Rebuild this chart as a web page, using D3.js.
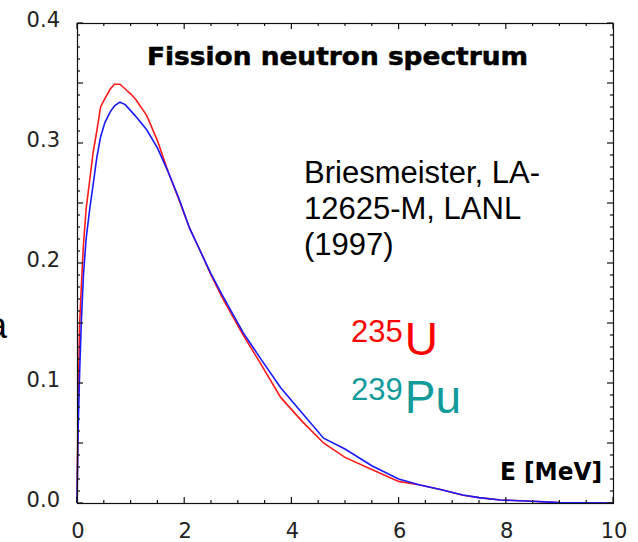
<!DOCTYPE html>
<html>
<head>
<meta charset="utf-8">
<script src="https://cdn.jsdelivr.net/npm/d3@7"></script>
<style>
  body { margin: 0; background: #fff; }
  svg { display: block; }
</style>
</head>
<body>
<svg id="chart" width="638" height="542"></svg>
<script>
// energies in MeV, spectra per MeV
const energy = [0, 0.02, 0.05, 0.08, 0.12, 0.17, 0.24, 0.3, 0.37, 0.44, 0.52, 0.62, 0.7, 0.8, 0.9, 1.0, 1.1, 1.3, 1.5, 1.7, 1.9, 2.1, 2.3, 2.5, 2.7, 2.9, 3.1, 3.4, 3.8, 4.2, 4.6, 5.0, 5.5, 6.0, 6.4, 6.8, 7.2, 7.5, 7.9, 8.5, 9.0, 10];
const u235 = [0, 0.08, 0.15, 0.18, 0.215, 0.245, 0.27, 0.292, 0.31, 0.33, 0.337, 0.345, 0.349, 0.349, 0.345, 0.341, 0.336, 0.323, 0.302, 0.276, 0.253, 0.229, 0.21, 0.19, 0.172, 0.156, 0.14, 0.118, 0.088, 0.068, 0.05, 0.038, 0.028, 0.018, 0.015, 0.011, 0.0065, 0.0045, 0.0025, 0.0015, 0.0003, 0];
const pu239 = [0, 0.06, 0.11, 0.15, 0.19, 0.22, 0.246, 0.265, 0.288, 0.305, 0.317, 0.326, 0.331, 0.334, 0.332, 0.327, 0.322, 0.311, 0.296, 0.276, 0.254, 0.229, 0.21, 0.191, 0.174, 0.158, 0.142, 0.122, 0.096, 0.075, 0.054, 0.045, 0.031, 0.02, 0.015, 0.011, 0.0067, 0.0045, 0.0025, 0.0015, 0.0003, 0];
const xLabels = [0, 2, 4, 6, 8, 10];
const yLabels = [0.0, 0.1, 0.2, 0.3, 0.4];

const svg = d3.select("#chart");
const plotL = 77, plotR = 613, plotT = 23, plotB = 503;

const x = d3.scaleLinear().domain([0, 10]).range([plotL, plotR]);
const y = d3.scaleLinear().domain([0, 0.4]).range([plotB, plotT]);

// curves
const line = d3.line()
    .x(function(d) { return x(d[0]); })
    .y(function(d) { return y(d[1]); });

svg.append("path")
    .datum(d3.zip(energy, u235))
    .attr("d", line)
    .attr("fill", "none")
    .attr("stroke", "#ff1a1a")
    .attr("stroke-width", 1.6);

svg.append("path")
    .datum(d3.zip(energy, pu239))
    .attr("d", line)
    .attr("fill", "none")
    .attr("stroke", "#1a1aff")
    .attr("stroke-width", 1.6);

// frame
svg.append("rect")
    .attr("x", plotL + 0.5)
    .attr("y", plotT + 0.5)
    .attr("width", plotR - plotL)
    .attr("height", plotB - plotT)
    .attr("fill", "none")
    .attr("stroke", "#111")
    .attr("stroke-width", 1.2);

// inward ticks on all four sides
const ticks = svg.append("g").attr("stroke", "#111").attr("stroke-width", 1.2);
d3.range(0, 10.01, 0.5).forEach(function(v) {
  const len = (Math.abs(v % 2) < 1e-6) ? 6 : 3;
  ticks.append("line").attr("x1", x(v)).attr("x2", x(v)).attr("y1", plotB).attr("y2", plotB - len);
  ticks.append("line").attr("x1", x(v)).attr("x2", x(v)).attr("y1", plotT).attr("y2", plotT + len);
});
d3.range(0, 41).forEach(function(i) {
  const v = i / 100;
  const len = (i % 5 === 0) ? 6 : 3;
  ticks.append("line").attr("x1", plotL).attr("x2", plotL + len).attr("y1", y(v)).attr("y2", y(v));
  ticks.append("line").attr("x1", plotR).attr("x2", plotR - len).attr("y1", y(v)).attr("y2", y(v));
});

// tick labels
svg.append("g").selectAll("text")
    .data(xLabels)
    .enter()
    .append("text")
    .attr("x", function(d) { return x(d) + 1; })
    .attr("y", plotB + 35)
    .attr("text-anchor", "middle")
    .attr("font-family", "DejaVu Sans")
    .attr("font-size", 21)
    .attr("fill", "#222")
    .text(function(d) { return d; });

svg.append("g").selectAll("text")
    .data(yLabels)
    .enter()
    .append("text")
    .attr("x", 60)
    .attr("y", function(d) { return y(d) + 4; })
    .attr("text-anchor", "end")
    .attr("font-family", "DejaVu Sans")
    .attr("font-size", 21)
    .attr("fill", "#222")
    .text(function(d) { return d.toFixed(1); });

// titles
svg.append("text")
    .attr("x", 147).attr("y", 65)
    .attr("font-family", "DejaVu Sans").attr("font-weight", "bold")
    .attr("font-size", 24)
    .attr("stroke", "#000").attr("stroke-width", 0.5)
    .attr("textLength", 381).attr("lengthAdjust", "spacingAndGlyphs")
    .text("Fission neutron spectrum");

svg.append("text")
    .attr("x", 500).attr("y", 480)
    .attr("font-family", "DejaVu Sans").attr("font-weight", "bold")
    .attr("font-size", 24)
    .attr("textLength", 102).attr("lengthAdjust", "spacingAndGlyphs")
    .text("E [MeV]");

// reference note
const note = ["Briesmeister, LA-", "12625-M, LANL", "(1997)"];
svg.append("g").selectAll("text")
    .data(note)
    .enter()
    .append("text")
    .attr("x", 304)
    .attr("y", function(d, i) { return 183 + i * 36; })
    .attr("font-family", "Liberation Sans, Arial, sans-serif")
    .attr("font-size", 31)
    .attr("fill", "#000")
    .text(function(d) { return d; });

// legend
const legend = [
  {mass: "235", sym: "U", colour: "#ff0000", base: 355},
  {mass: "239", sym: "Pu", colour: "#139a9a", base: 413}
];
legend.forEach(function(d) {
  const t = svg.append("text")
      .attr("x", 351).attr("y", d.base)
      .attr("font-family", "Liberation Sans, Arial, sans-serif")
      .attr("fill", d.colour);
  t.append("tspan").attr("font-size", 31).attr("dy", -13).text(d.mass);
  t.append("tspan").attr("font-size", 46).attr("dy", 13).attr("dx", 2).text(d.sym);
});

// cropped letter at the left edge (cut off in the original too)
svg.append("text")
    .attr("x", -13).attr("y", 338)
    .attr("font-family", "Liberation Sans, Arial, sans-serif")
    .attr("font-size", 36)
    .text("a");
</script>
</body>
</html>
